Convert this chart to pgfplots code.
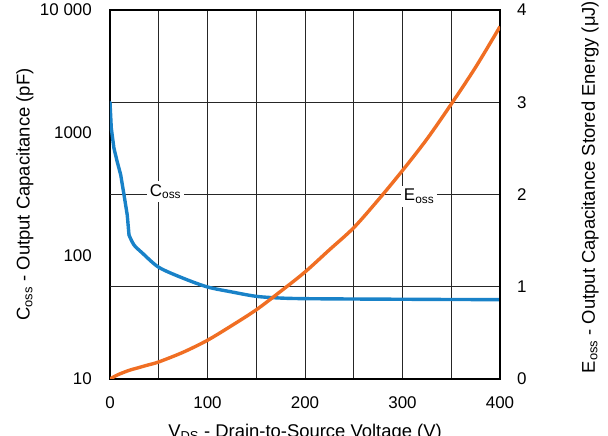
\documentclass[border=0pt]{standalone}
\usepackage{fontspec}
\setmainfont{Liberation Sans}
\usepackage{pgfplots}
\pgfplotsset{compat=1.18}
\definecolor{cossblue}{RGB}{25,130,200}
\definecolor{eossorange}{RGB}{240,110,35}
\newcommand{\tickfont}{\fontsize{17}{20}\selectfont}
\newcommand{\labfont}{\fontsize{18.5}{22}\selectfont}

\begin{document}
\begin{tikzpicture}
% left axis: Coss on log scale, carries the grid
\begin{axis}[
    name=ax,
    width=390bp, height=369bp, scale only axis,
    xmin=0, xmax=400,
    ymode=log, ymin=10, ymax=10000,
    xtick={0,100,200,300,400},
    xticklabels={0,100,200,300,400},
    minor xtick={50,150,250,350},
    ytick={10,100,1000,10000},
    yticklabels={10,100,1000,10 000},
    extra y ticks={56.234,316.228,1778.28},
    extra y tick labels={},
    extra y tick style={grid=major},
    xmajorgrids, xminorgrids,
    major tick length=0pt, minor tick length=0pt,
    axis line style={line width=2.4bp},
    grid style={line width=0.8bp, black!85},
    minor grid style={line width=0.8bp, black!85},
    ticklabel style={font=\tickfont, inner sep=0pt},
    xticklabel style={anchor=base, yshift=-29bp},
    yticklabel style={anchor=east, xshift=-18bp},
    xlabel={V\textsubscript{DS} - Drain-to-Source Voltage (V)},
    xlabel style={font=\labfont, at={(axis description cs:0.5,0)}, anchor=base, yshift=-58bp, inner sep=0pt},
    ylabel={C\textsubscript{oss} - Output Capacitance (pF)},
    ylabel style={font=\labfont, at={(axis description cs:-0.218,0.5)}, anchor=center, inner sep=0pt},
]
% steep part before the knee
\addplot[cossblue, line width=3.4bp, line join=round, line cap=round] coordinates {
    (0,1780) (1.3,1100) (4,755) (7.5,580) (11,456) (14.4,313) (17.7,215)
    (19.5,148)
};
% after the knee
\addplot[cossblue, line width=3.4bp, smooth, tension=0.5, line cap=round] coordinates {
    (19.5,148) (24.6,123) (33,106) (50,81) (75,66) (100,56) (125,51)
    (150,47) (175,45.5) (200,45) (250,44.7) (300,44.5) (350,44.3) (400,44.2)
};
\end{axis}
% right axis: Eoss linear
\begin{axis}[
    width=390bp, height=369bp, scale only axis,
    xmin=0, xmax=400, ymin=0, ymax=4,
    axis x line=none, axis y line*=right,
    ytick={0,1,2,3,4},
    yticklabels={0,1,2,3,4},
    major tick length=0pt,
    axis line style={line width=2.4bp},
    ticklabel style={font=\tickfont, inner sep=0pt},
    yticklabel style={anchor=west, xshift=17bp},
    ylabel={E\textsubscript{oss} - Output Capacitance Stored Energy (μJ)},
    ylabel style={font=\labfont, at={(axis description cs:1.2308,0.52)}, anchor=center, inner sep=0pt},
]
\addplot[eossorange, line width=3.4bp, smooth, tension=0.5] coordinates {
    (0,0) (5,0.03) (10,0.055) (20,0.095) (30,0.125) (40,0.155) (50,0.185)
    (75,0.29) (100,0.42) (125,0.58) (150,0.75) (175,0.95) (200,1.16)
    (225,1.4) (250,1.64) (275,1.94) (300,2.26) (325,2.6) (350,2.98)
    (375,3.38) (400,3.82)
};
\node[fill=white, inner sep=3bp, font=\tickfont] at (axis cs:57,2.03) {C\textsubscript{oss}};
\node[fill=white, inner sep=3bp, font=\tickfont] at (axis cs:317,1.98) {E\textsubscript{oss}};
\end{axis}
\pgfresetboundingbox
\path[use as bounding box] (ax.south west) ++(-110bp,-57bp) rectangle ++(608bp,436bp);
\end{tikzpicture}
\end{document}
